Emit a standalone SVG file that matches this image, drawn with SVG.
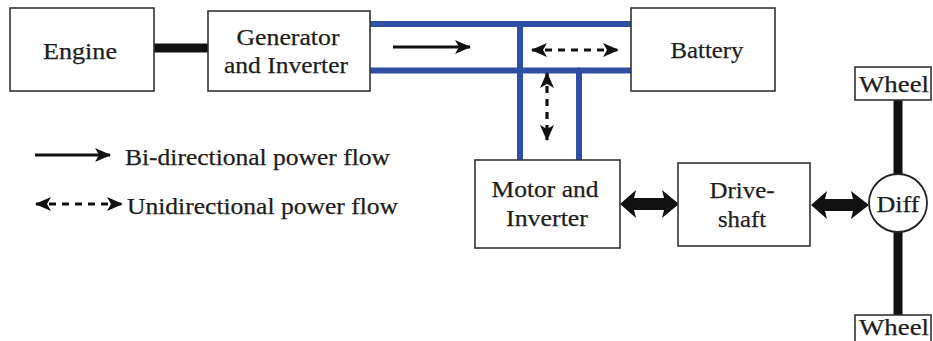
<svg xmlns="http://www.w3.org/2000/svg" width="933" height="341" viewBox="0 0 933 341">
<defs>
<style>
.box{fill:#fff;stroke:#333;stroke-width:1.6}
.t{font-family:"Liberation Serif","Times New Roman",Times,serif;font-size:23px;fill:#1e1e1e;stroke:#1e1e1e;stroke-width:0.25;text-anchor:middle}
.tl{font-family:"Liberation Serif","Times New Roman",Times,serif;font-size:23px;fill:#1e1e1e;stroke:#1e1e1e;stroke-width:0.25}
.bus{stroke:#2f4fa6;stroke-width:6;fill:none}
.thin{stroke:#111;stroke-width:3;fill:none}
.dash{stroke:#111;stroke-width:3.2;fill:none;stroke-dasharray:7 6}
.thick{fill:#111}
.axle{stroke:#111;stroke-width:9;fill:none}
</style>
<marker id="ah" viewBox="0 0 16 16" markerUnits="userSpaceOnUse" markerWidth="16" markerHeight="16" refX="15" refY="8" orient="auto-start-reverse">
<path d="M0,1 L16,8 L0,15 L4,8 z" fill="#111"/>
</marker>
</defs>
<g id="connectors">
<line class="bus" x1="370" y1="24" x2="631" y2="24"/>
<line class="bus" x1="370" y1="70.5" x2="631" y2="70.5"/>
<line class="bus" x1="520" y1="24" x2="520" y2="161" stroke-linecap="round"/>
<line class="bus" x1="579" y1="70.5" x2="579" y2="161" stroke-linecap="round"/>
<line x1="155" y1="48" x2="207" y2="48" stroke="#111" stroke-width="9" stroke-linecap="round"/>
<line class="thin" x1="393" y1="47" x2="470" y2="47" marker-end="url(#ah)"/>
<line class="dash" x1="532" y1="50" x2="618" y2="50" marker-start="url(#ah)" marker-end="url(#ah)"/>
<line class="dash" x1="547" y1="73" x2="547" y2="140" marker-start="url(#ah)" marker-end="url(#ah)"/>
<polygon class="thick" points="620,204 636,190 634,198 664,198 662,190 679,204 662,218 664,210 634,210 636,218"/>
<polygon class="thick" points="811,205 827,191 825,199 853,199 851,191 869,205 851,219 853,211 825,211 827,219"/>
<line class="axle" x1="898" y1="100" x2="898" y2="175"/>
<line class="axle" x1="898" y1="232" x2="898" y2="315"/>
<line class="thin" x1="35" y1="155" x2="110" y2="155" marker-end="url(#ah)"/>
<line class="dash" x1="36" y1="204" x2="122" y2="204" marker-start="url(#ah)" marker-end="url(#ah)"/>
</g>
<g id="engine">
<rect class="box" x="10" y="8" width="144" height="83"/>
<text class="t" x="80" y="59" textLength="74" lengthAdjust="spacingAndGlyphs">Engine</text>
</g>
<g id="generator">
<rect class="box" x="208" y="11" width="162" height="80"/>
<text class="t" x="288" y="45" textLength="103" lengthAdjust="spacingAndGlyphs">Generator</text>
<text class="t" x="286" y="73" textLength="124" lengthAdjust="spacingAndGlyphs">and Inverter</text>
</g>
<g id="battery">
<rect class="box" x="631" y="8" width="144" height="83"/>
<text class="t" x="707" y="58" textLength="73" lengthAdjust="spacingAndGlyphs">Battery</text>
</g>
<g id="motor">
<rect class="box" x="475" y="160" width="145" height="88"/>
<text class="t" x="545" y="197" textLength="107" lengthAdjust="spacingAndGlyphs">Motor and</text>
<text class="t" x="547" y="226" textLength="82" lengthAdjust="spacingAndGlyphs">Inverter</text>
</g>
<g id="driveshaft">
<rect class="box" x="678" y="163" width="132" height="83"/>
<text class="t" x="742" y="198" textLength="65" lengthAdjust="spacingAndGlyphs">Drive-</text>
<text class="t" x="742" y="227" textLength="48" lengthAdjust="spacingAndGlyphs">shaft</text>
</g>
<g id="diff">
<circle cx="898" cy="203" r="29" fill="#fff" stroke="#222" stroke-width="1.8"/>
<text class="t" x="898" y="212" textLength="43" lengthAdjust="spacingAndGlyphs">Diff</text>
</g>
<g id="wheel-top">
<rect class="box" x="855" y="67" width="76" height="33"/>
<text class="t" x="894" y="92" textLength="70" lengthAdjust="spacingAndGlyphs">Wheel</text>
</g>
<g id="wheel-bottom">
<rect class="box" x="855" y="315" width="76" height="33"/>
<text class="t" x="894" y="335" textLength="70" lengthAdjust="spacingAndGlyphs">Wheel</text>
</g>
<g id="legend">
<text class="tl" x="125" y="165" textLength="265" lengthAdjust="spacingAndGlyphs">Bi-directional power flow</text>
<text class="tl" x="127" y="214" textLength="271" lengthAdjust="spacingAndGlyphs">Unidirectional power flow</text>
</g>
</svg>
